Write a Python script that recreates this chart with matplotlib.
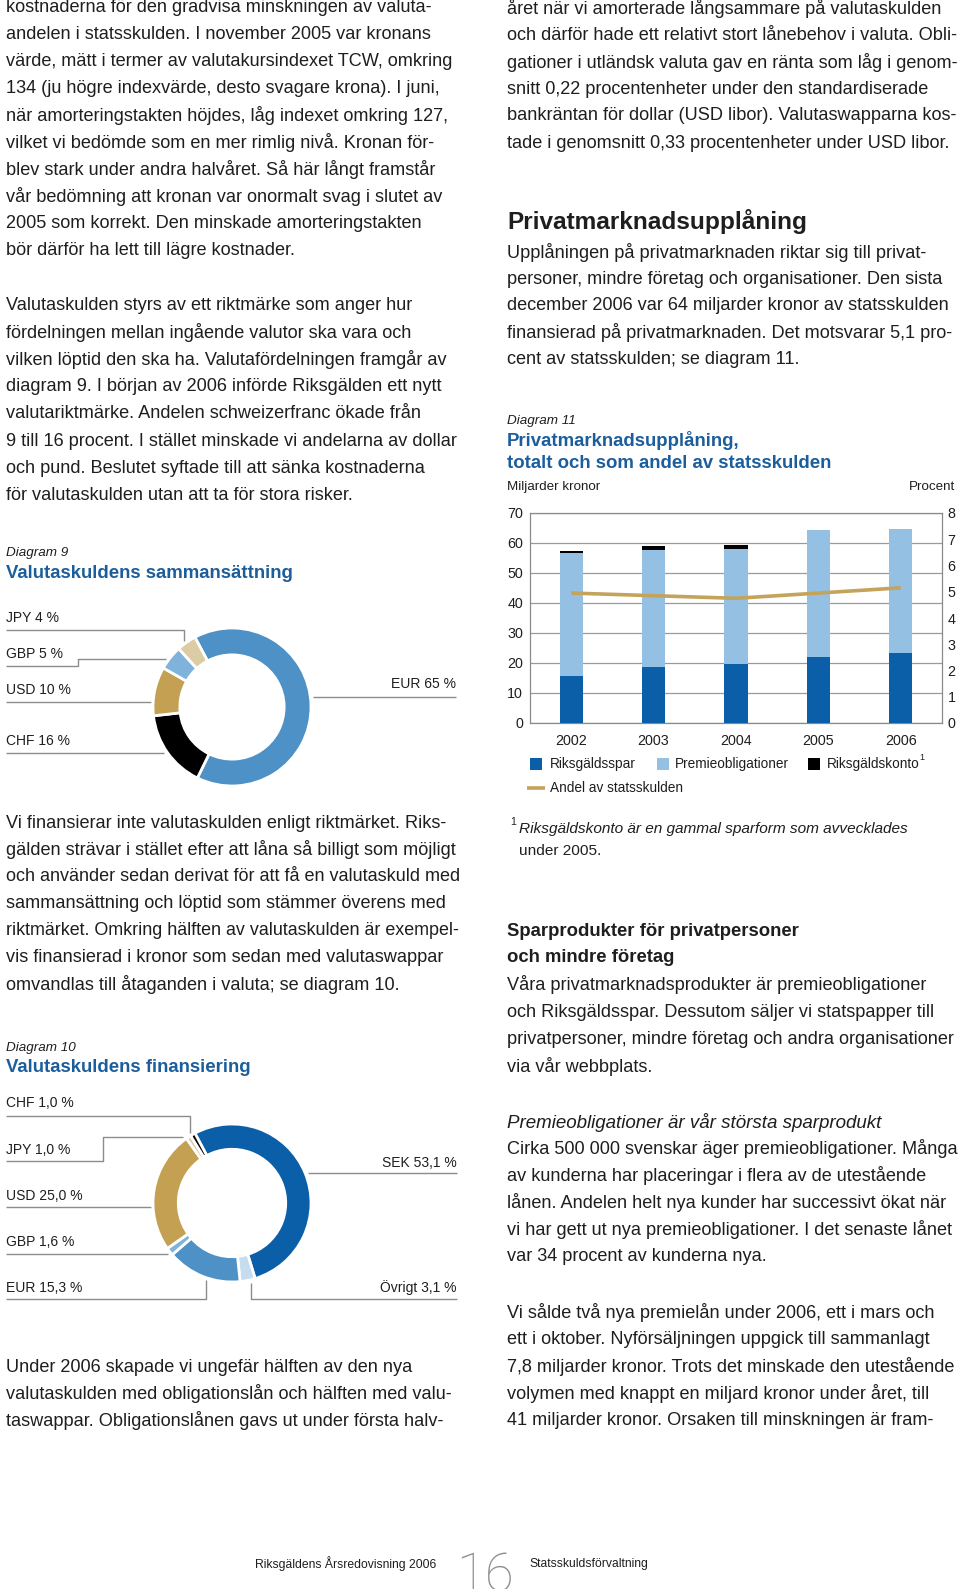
import matplotlib
matplotlib.use("Agg")
import matplotlib.pyplot as plt
import numpy as np

plt.rcParams['font.family'] = ['Liberation Sans', 'DejaVu Sans']

W, H = 960, 1589
TXT = '#1e1e1e'
BLUE_T = '#1c5e9c'
GREY = '#8c8c8c'
BODY = 13.1

# diagram 9: valutaskuldens sammansättning (clockwise from top)
d9_cur = ['EUR', 'CHF', 'USD', 'GBP', 'JPY']
d9_val = [65, 16, 10, 5, 4]
d9_col = ['#4d91c6', '#000000', '#c4a052', '#80b3dc', '#dccca3']

# diagram 10: valutaskuldens finansiering
d10_cur = ['SEK', 'Övrigt', 'EUR', 'GBP', 'USD', 'JPY', 'CHF']
d10_val = [53.1, 3.1, 15.3, 1.6, 25.0, 1.0, 1.0]
d10_col = ['#0b5fa8', '#c6ddef', '#4d91c6', '#80b3dc', '#c4a052', '#dccca3', '#000000']

# diagram 11: privatmarknadsupplåning
years = ['2002', '2003', '2004', '2005', '2006']
riksgaldsspar = [15.7, 18.8, 19.7, 21.9, 23.3]
premieobl = [41.0, 38.8, 38.4, 42.4, 41.5]
riksgaldskonto = [0.7, 1.5, 1.4, 0.0, 0.0]
andel = [4.95, 4.85, 4.75, 4.95, 5.15]

left_p1 = ["kostnaderna för den gradvisa minskningen av valuta-",
           "andelen i statsskulden. I november 2005 var kronans",
           "värde, mätt i termer av valutakursindexet TCW, omkring",
           "134 (ju högre indexvärde, desto svagare krona). I juni,",
           "när amorteringstakten höjdes, låg indexet omkring 127,",
           "vilket vi bedömde som en mer rimlig nivå. Kronan för-",
           "blev stark under andra halvåret. Så här långt framstår",
           "vår bedömning att kronan var onormalt svag i slutet av",
           "2005 som korrekt. Den minskade amorteringstakten",
           "bör därför ha lett till lägre kostnader."]
left_p2 = ["Valutaskulden styrs av ett riktmärke som anger hur",
           "fördelningen mellan ingående valutor ska vara och",
           "vilken löptid den ska ha. Valutafördelningen framgår av",
           "diagram 9. I början av 2006 införde Riksgälden ett nytt",
           "valutariktmärke. Andelen schweizerfranc ökade från",
           "9 till 16 procent. I stället minskade vi andelarna av dollar",
           "och pund. Beslutet syftade till att sänka kostnaderna",
           "för valutaskulden utan att ta för stora risker."]
left_p3 = ["Vi finansierar inte valutaskulden enligt riktmärket. Riks-",
           "gälden strävar i stället efter att låna så billigt som möjligt",
           "och använder sedan derivat för att få en valutaskuld med",
           "sammansättning och löptid som stämmer överens med",
           "riktmärket. Omkring hälften av valutaskulden är exempel-",
           "vis finansierad i kronor som sedan med valutaswappar",
           "omvandlas till åtaganden i valuta; se diagram 10."]
left_p4 = ["Under 2006 skapade vi ungefär hälften av den nya",
           "valutaskulden med obligationslån och hälften med valu-",
           "taswappar. Obligationslånen gavs ut under första halv-"]

right_p1 = ["året när vi amorterade långsammare på valutaskulden",
            "och därför hade ett relativt stort lånebehov i valuta. Obli-",
            "gationer i utländsk valuta gav en ränta som låg i genom-",
            "snitt 0,22 procentenheter under den standardiserade",
            "bankräntan för dollar (USD libor). Valutaswapparna kos-",
            "tade i genomsnitt 0,33 procentenheter under USD libor."]
right_p2 = ["Upplåningen på privatmarknaden riktar sig till privat-",
            "personer, mindre företag och organisationer. Den sista",
            "december 2006 var 64 miljarder kronor av statsskulden",
            "finansierad på privatmarknaden. Det motsvarar 5,1 pro-",
            "cent av statsskulden; se diagram 11."]
right_p3 = ["Våra privatmarknadsprodukter är premieobligationer",
            "och Riksgäldsspar. Dessutom säljer vi statspapper till",
            "privatpersoner, mindre företag och andra organisationer",
            "via vår webbplats."]
right_p4 = ["Cirka 500 000 svenskar äger premieobligationer. Många",
            "av kunderna har placeringar i flera av de utestående",
            "lånen. Andelen helt nya kunder har successivt ökat när",
            "vi har gett ut nya premieobligationer. I det senaste lånet",
            "var 34 procent av kunderna nya."]
right_p5 = ["Vi sålde två nya premielån under 2006, ett i mars och",
            "ett i oktober. Nyförsäljningen uppgick till sammanlagt",
            "7,8 miljarder kronor. Trots det minskade den utestående",
            "volymen med knappt en miljard kronor under året, till",
            "41 miljarder kronor. Orsaken till minskningen är fram-"]


def px_rect(x0, y0, x1, y1):
    # pixel box (top-left origin) -> figure fraction rect
    return [x0 / W, 1 - y1 / H, (x1 - x0) / W, (y1 - y0) / H]


def fit(t, x0, xmax):
    # shrink a text line that runs past the column edge
    r = fig.canvas.get_renderer()
    w = t.get_window_extent(renderer=r).width
    if x0 + w > xmax:
        t.set_fontsize(t.get_fontsize() * (xmax - x0) / w)


def para(ax, lines, x, y0, step, xmax, size=BODY, **kw):
    for i, s in enumerate(lines):
        t = ax.text(x, y0 + i * step, s, fontsize=size, color=TXT, va='center', ha='left', **kw)
        fit(t, x, xmax)


def leader(ax, xs, ys, color=GREY, lw=1.0):
    ax.plot(xs, ys, color=color, lw=lw, solid_capstyle='butt')


def donut(rect, values, colors, inner):
    ax = fig.add_axes(rect)
    ax.pie(values, colors=colors, startangle=118, counterclock=False,
           wedgeprops=dict(width=1 - inner, edgecolor='white', linewidth=2.0))
    ax.set_xlim(-1, 1)
    ax.set_ylim(-1, 1)
    ax.set_aspect('equal')
    ax.axis('off')
    return ax


fig = plt.figure(figsize=(W / 100, H / 100), dpi=100)
bg = fig.add_axes([0, 0, 1, 1])
bg.set_xlim(0, W)
bg.set_ylim(H, 0)
bg.axis('off')

LX, LMAX = 6, 457
RX, RMAX = 507, 956

# left column text
para(bg, left_p1, LX, 7.5, 27, LMAX)
para(bg, left_p2, LX, 305, 27.2, LMAX)
para(bg, left_p3, LX, 823, 26.85, LMAX)
para(bg, left_p4, LX, 1367, 26.7, LMAX)

# right column text
para(bg, right_p1, RX, 8, 27, RMAX)
bg.text(RX, 222, "Privatmarknadsupplåning", fontsize=17.6, fontweight='bold', color=TXT, va='center')
para(bg, right_p2, RX, 252, 27, RMAX)
bg.text(510, 822, "1", fontsize=7.5, color=TXT, va='center')
bg.text(519, 829, "Riksgäldskonto är en gammal sparform som avvecklades", fontsize=11.1,
        style='italic', color=TXT, va='center')
bg.text(519, 851, "under 2005.", fontsize=11.1, color=TXT, va='center')
bg.text(RX, 931, "Sparprodukter för privatpersoner", fontsize=13.3, fontweight='bold', color=TXT, va='center')
bg.text(RX, 957, "och mindre företag", fontsize=13.3, fontweight='bold', color=TXT, va='center')
para(bg, right_p3, RX, 985, 27.2, RMAX)
bg.text(RX, 1122, "Premieobligationer är vår största sparprodukt", fontsize=13.5, style='italic',
        color=TXT, va='center')
para(bg, right_p4, RX, 1148, 27.2, RMAX)
para(bg, right_p5, RX, 1312, 27.2, RMAX)

# footer (page number runs off the bottom edge, as on the printed page)
bg.text(255, 1564, "Riksgäldens Årsredovisning 2006", fontsize=8.7, color=TXT, va='center')
bg.text(485, 1591, "16", fontsize=38, color='#8f8f8f', va='baseline', ha='center',
        family=['Roboto', 'Liberation Sans'], fontweight='light')
bg.text(529, 1564, "Statsskuldsförvaltning", fontsize=8.7, color=TXT, va='center')

# ---- diagram 9
bg.text(6, 553, "Diagram 9", fontsize=9.7, style='italic', color=TXT, va='center')
bg.text(6, 573, "Valutaskuldens sammansättning", fontsize=13.4, fontweight='bold', color=BLUE_T, va='center')
donut(px_rect(232 - 79, 707 - 79, 232 + 79, 707 + 79), d9_val, d9_col, 0.66)
lab9 = {c: f"{c} {v} %" for c, v in zip(d9_cur, d9_val)}
bg.text(6, 618, lab9['JPY'], fontsize=10, color=TXT, va='center')
leader(bg, [6, 184, 184], [630, 630, 641])
bg.text(6, 654, lab9['GBP'], fontsize=10, color=TXT, va='center')
leader(bg, [6, 78, 78, 166], [666, 666, 659, 659])
bg.text(6, 690, lab9['USD'], fontsize=10, color=TXT, va='center')
leader(bg, [6, 151], [702, 702])
bg.text(6, 741, lab9['CHF'], fontsize=10, color=TXT, va='center')
leader(bg, [6, 164], [753, 753])
bg.text(456, 684, lab9['EUR'], fontsize=10, color=TXT, va='center', ha='right')
leader(bg, [313, 456], [697, 697])

# ---- diagram 10
bg.text(6, 1048, "Diagram 10", fontsize=9.7, style='italic', color=TXT, va='center')
bg.text(6, 1068, "Valutaskuldens finansiering", fontsize=13.4, fontweight='bold', color=BLUE_T, va='center')
donut(px_rect(232 - 79, 1203 - 79, 232 + 79, 1203 + 79), d10_val, d10_col, 0.68)
lab10 = {c: f"{c} {v:.1f} %".replace('.', ',') for c, v in zip(d10_cur, d10_val)}
bg.text(6, 1103, lab10['CHF'], fontsize=10, color=TXT, va='center')
leader(bg, [6, 190, 190], [1116, 1116, 1133])
bg.text(6, 1150, lab10['JPY'], fontsize=10, color=TXT, va='center')
leader(bg, [6, 103, 103, 183], [1161, 1161, 1137, 1137])
bg.text(6, 1196, lab10['USD'], fontsize=10, color=TXT, va='center')
leader(bg, [6, 151], [1207, 1207])
bg.text(6, 1242, lab10['GBP'], fontsize=10, color=TXT, va='center')
leader(bg, [6, 168], [1254, 1254])
bg.text(6, 1288, lab10['EUR'], fontsize=10, color=TXT, va='center')
leader(bg, [6, 206, 206], [1299, 1299, 1280])
bg.text(457, 1163, lab10['SEK'], fontsize=10, color=TXT, va='center', ha='right')
leader(bg, [308, 457], [1173, 1173])
bg.text(457, 1288, lab10['Övrigt'], fontsize=10, color=TXT, va='center', ha='right')
leader(bg, [457, 251, 251], [1299, 1299, 1283])

# ---- diagram 11
bg.text(RX, 421, "Diagram 11", fontsize=9.7, style='italic', color=TXT, va='center')
bg.text(RX, 441, "Privatmarknadsupplåning,", fontsize=13.4, fontweight='bold', color=BLUE_T, va='center')
bg.text(RX, 463, "totalt och som andel av statsskulden", fontsize=13.4, fontweight='bold', color=BLUE_T, va='center')
bg.text(RX, 487, "Miljarder kronor", fontsize=9.6, color=TXT, va='center')
bg.text(955, 487, "Procent", fontsize=9.6, color=TXT, va='center', ha='right')

ax = fig.add_axes(px_rect(530, 513, 942, 723))
x = np.arange(len(years))
bw = 0.28
spar = np.array(riksgaldsspar)
prem = np.array(premieobl)
ax.bar(x, spar, bw, color='#0b5fa8', zorder=3)
ax.bar(x, prem, bw, bottom=spar, color='#94c0e4', zorder=3)
ax.bar(x, riksgaldskonto, bw, bottom=spar + prem, color='#000000', zorder=3)
ax.set_xlim(-0.5, len(years) - 0.5)
ax.set_ylim(0, 70)
ax.set_yticks(range(0, 71, 10))
ax.set_xticks(x)
ax.set_xticklabels(years)
ax.yaxis.grid(True, color='#9a9a9a', lw=0.9)
ax.set_axisbelow(True)
for sp in ax.spines.values():
    sp.set_color('#8a8a8a')
    sp.set_linewidth(0.9)
ax.tick_params(axis='both', length=0, labelsize=10.3, colors=TXT)
ax.tick_params(axis='y', pad=5)
ax.tick_params(axis='x', pad=8)

ax2 = ax.twinx()
ax2.plot(x, andel, color='#c4a35a', lw=2.6, solid_capstyle='butt', zorder=4)
ax2.set_ylim(0, 8)
ax2.set_yticks(range(0, 9))
ax2.tick_params(axis='y', length=0, labelsize=10.3, colors=TXT, pad=4)
for sp in ax2.spines.values():
    sp.set_visible(False)

# legend
last = None
for sx, tx, col, name in [(530, 550, '#0b5fa8', 'Riksgäldsspar'),
                          (657, 675, '#94c0e4', 'Premieobligationer'),
                          (808, 827, '#000000', 'Riksgäldskonto')]:
    bg.add_patch(plt.Rectangle((sx, 758), 12, 12, color=col, lw=0))
    last = bg.text(tx, 764, name, fontsize=9.8, color=TXT, va='center')
bb = last.get_window_extent(renderer=fig.canvas.get_renderer())
bg.text(bb.x1, 757, "1", fontsize=6.5, color=TXT, va='center')
leader(bg, [527, 545], [788, 788], color='#c4a35a', lw=2.6)
bg.text(550, 788, "Andel av statsskulden", fontsize=9.8, color=TXT, va='center')

fig.savefig("out.png", dpi=100)
